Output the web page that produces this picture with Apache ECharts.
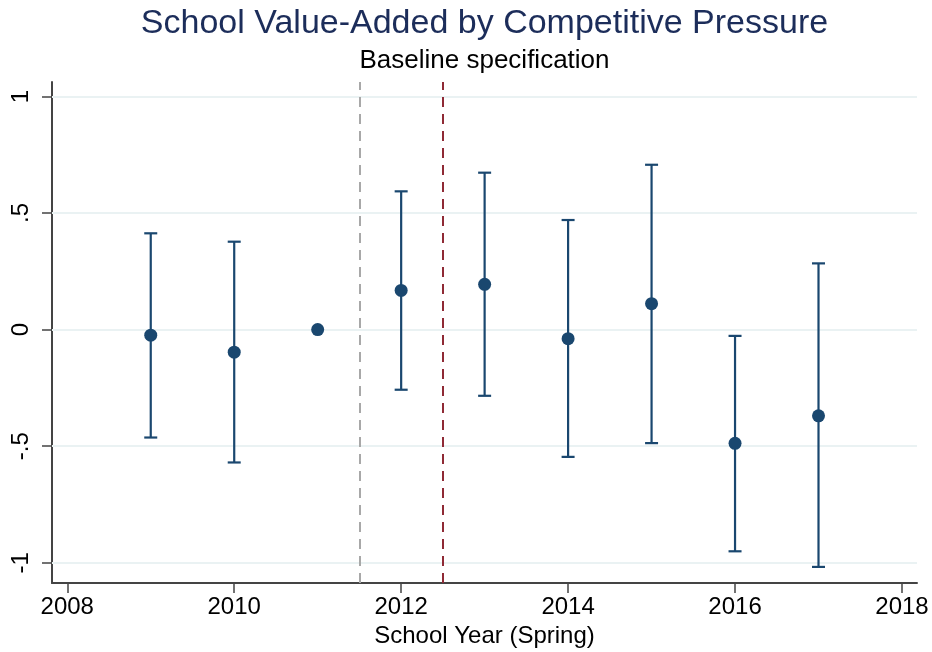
<!DOCTYPE html>
<html>
<head>
<meta charset="utf-8">
<script src="https://cdn.jsdelivr.net/npm/echarts@6/dist/echarts.min.js"></script>
<style>
  html, body { margin: 0; padding: 0; background: #fff; }
  #chart { width: 932px; height: 652px; }
</style>
</head>
<body>
<div id="chart"></div>
<script>
// point estimates and 95% CI by school year
const years = [2009, 2010, 2011, 2012, 2013, 2014, 2015, 2016, 2017];
const estimates = [-0.024, -0.097, 0, 0.168, 0.194, -0.039, 0.111, -0.488, -0.37];
const lower = [-0.463, -0.570, null, -0.258, -0.284, -0.546, -0.487, -0.951, -1.018];
const upper = [0.413, 0.377, null, 0.593, 0.673, 0.470, 0.707, -0.027, 0.284];

const xTicks = [2008, 2010, 2012, 2014, 2016, 2018];
const yTicks = [-1, -0.5, 0, 0.5, 1];
const yTickLabels = ["-1", "-.5", "0", ".5", "1"];
const refLines = [2011.5, 2012.5];

const navy = "#1a476f";
const font = "Liberation Sans, Arial, sans-serif";

const chart = echarts.init(document.getElementById("chart"));

const ciData = years
  .map((y, i) => [y, lower[i], upper[i]])
  .filter((d) => d[1] !== null);

const option = {
  animation: false,
  title: {
    text: "School Value-Added by Competitive Pressure",
    subtext: "Baseline specification",
    // centred over the plot area (52..917), not the page
    left: 479.5,
    textAlign: "center",
    top: 2,
    padding: 5,
    itemGap: 7,
    textStyle: {
      color: "#1c2d5a",
      fontFamily: font,
      fontSize: 34,
      fontWeight: "normal",
    },
    subtextStyle: {
      color: "#000",
      fontFamily: font,
      fontSize: 26,
    },
  },
  grid: {
    left: 52,
    right: 15,
    top: 82,
    bottom: 69,
    outerBoundsMode: "none",
    containLabel: false,
  },
  xAxis: {
    type: "value",
    min: 2007.817,
    max: 2018.18,
    name: "School Year (Spring)",
    nameLocation: "middle",
    nameGap: 41,
    nameTextStyle: { color: "#000", fontFamily: font, fontSize: 24 },
    axisLine: { show: true, onZero: false, lineStyle: { color: "#444", width: 2 } },
    axisTick: {
      show: true,
      length: 10,
      customValues: xTicks,
      lineStyle: { color: "#444", width: 1.5 },
    },
    axisLabel: {
      customValues: xTicks,
      color: "#000",
      fontFamily: font,
      fontSize: 24,
      margin: 12,
      formatter: (v) => String(v),
    },
    splitLine: { show: false },
  },
  yAxis: {
    type: "value",
    min: -1.087,
    max: 1.062,
    axisLine: { show: true, onZero: false, lineStyle: { color: "#444", width: 2 } },
    axisTick: {
      show: true,
      length: 10,
      customValues: yTicks,
      lineStyle: { color: "#444", width: 1.5 },
    },
    axisLabel: {
      customValues: yTicks,
      rotate: 90,
      color: "#000",
      fontFamily: font,
      fontSize: 24,
      margin: 19,
      formatter: (v) => yTickLabels[yTicks.indexOf(Math.round(v * 2) / 2)],
    },
    splitLine: { show: false },
  },
  series: [
    {
      type: "line",
      z: 0,
      data: [],
      markLine: {
        silent: true,
        symbol: "none",
        label: { show: false },
        lineStyle: { color: "#eaf2f3", type: "solid", width: 2 },
        data: yTicks.map((v) => ({ yAxis: v })),
      },
    },
    {
      type: "line",
      z: 1,
      data: [],
      markLine: {
        silent: true,
        symbol: "none",
        label: { show: false },
        data: [
          { xAxis: refLines[0], lineStyle: { color: "#a8a8a8", type: [10, 7], width: 2 } },
          { xAxis: refLines[1], lineStyle: { color: "#8f2a35", type: [10, 7], width: 2 } },
        ],
      },
    },
    {
      type: "custom",
      data: ciData,
      z: 5,
      renderItem: (params, api) => {
        const x = api.value(0);
        const lo = api.coord([x, api.value(1)]);
        const hi = api.coord([x, api.value(2)]);
        const half = 6.5;
        const style = { stroke: navy, lineWidth: 2.2 };
        return {
          type: "group",
          children: [
            { type: "line", shape: { x1: lo[0], y1: lo[1], x2: hi[0], y2: hi[1] }, style },
            { type: "line", shape: { x1: hi[0] - half, y1: hi[1], x2: hi[0] + half, y2: hi[1] }, style },
            { type: "line", shape: { x1: lo[0] - half, y1: lo[1], x2: lo[0] + half, y2: lo[1] }, style },
          ],
        };
      },
    },
    {
      type: "scatter",
      z: 6,
      symbolSize: 13,
      itemStyle: { color: navy, opacity: 1, borderWidth: 0 },
      data: years.map((y, i) => [y, estimates[i]]),
    },
  ],
};

chart.setOption(option);
</script>
</body>
</html>
